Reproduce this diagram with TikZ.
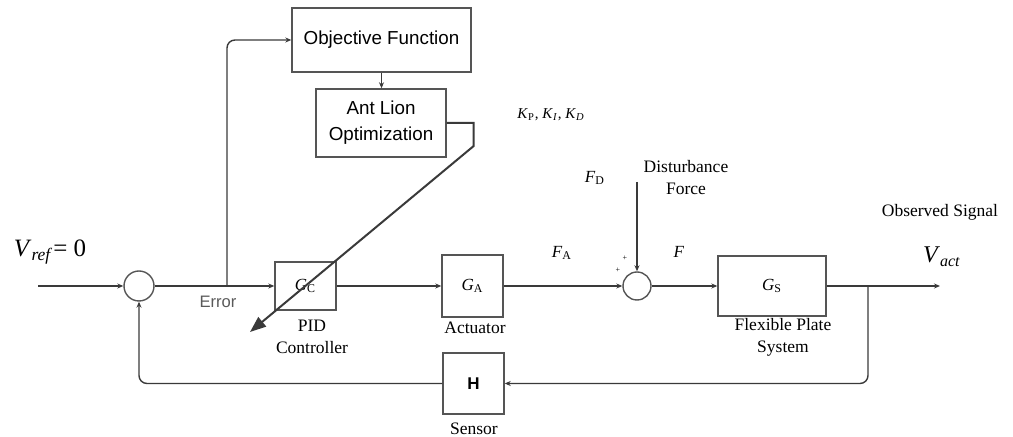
\documentclass[tikz,border=0pt]{standalone}
\usepackage{fontspec}
\setmainfont{Liberation Serif}
\setsansfont{Liberation Sans}
\usetikzlibrary{arrows.meta,positioning,calc}
\definecolor{lineg}{HTML}{3A3A3A}
\definecolor{boxg}{HTML}{555555}
\definecolor{errg}{HTML}{5A5A5A}

\begin{document}
\begin{tikzpicture}[x=0.5pt,y=-0.5pt,
  blk/.style={draw=boxg,line width=0.7pt,inner sep=0pt},
  sumc/.style={draw=boxg,line width=0.7pt,circle,inner sep=0pt},
  sig/.style={draw=lineg,line width=0.7pt,-{Stealth[length=3pt,width=2.5pt]}},
  txt/.style={font=\fontsize{8.75}{11}\selectfont,align=center,inner sep=0pt},
  glbl/.style={font=\fontsize{8.5}{10}\selectfont}]
  \useasboundingbox (0,0) rectangle (1013,437);
  % optimiser blocks
  \node[blk,minimum width=89.5pt,minimum height=32pt,font=\sffamily\fontsize{9.4}{11}\selectfont] (obj) at (381.5,40){Objective Function};
  \node[blk,minimum width=65pt,minimum height=34pt,align=center,font=\sffamily\fontsize{9.4}{13}\selectfont] (alo) at (381,123){Ant Lion\\Optimization};
  % loop blocks
  \node[sumc,minimum size=15pt] (s1) at (139,286){};
  \node[blk,minimum width=30.5pt,minimum height=24pt,glbl] (gc) at (305.5,286){\textit{G}\textsubscript{C}};
  \node[blk,minimum width=30.5pt,minimum height=31pt,glbl] (ga) at (472.5,286){\textit{G}\textsubscript{A}};
  \node[sumc,minimum size=14pt] (s2) at (637,286){};
  \node[blk,minimum width=54pt,minimum height=30pt,glbl] (gs) at (772,286){\textit{G}\textsubscript{S}};
  \node[blk,minimum width=30.5pt,minimum height=30.5pt,font=\sffamily\bfseries\fontsize{8.5}{10}\selectfont] (hs) at (473.5,383.5){H};
  % free ends
  \coordinate (vin) at (38,286);
  \coordinate (etap) at (227,286);
  \coordinate (otap) at (868,286);
  \coordinate (vout) at (940,286);
  \coordinate (dtop) at (637,182);
  \coordinate (kend) at (250,332);
  % signals
  \draw[sig] (vin)--(s1.west);
  \draw[sig] (s1.east)--(gc.west);
  \draw[sig] (gc.east)--(ga.west);
  \draw[sig] (ga.east)--(s2.west);
  \draw[sig] (s2.east)--(gs.west);
  \draw[sig] (gs.east)--(vout);
  \draw[sig,rounded corners=4pt] (etap)|-(obj.west);
  \draw[sig] (obj.south)--(obj.south|-alo.north);
  \draw[sig,rounded corners=4pt] (otap)|-(hs.east);
  \draw[sig,rounded corners=4pt] (hs.west)-|(s1.south);
  \draw[sig] (dtop)--(s2.north);
  \draw[lineg,line width=1pt,-{Triangle[length=8pt,width=6pt]}] (alo.east)--++(27,0)--++(0,23)--(kend);
  % labels
  \node[font=\fontsize{4}{4}\selectfont,inner sep=0pt] (p1) at (625,258){+};
  \node[font=\fontsize{4}{4}\selectfont,inner sep=0pt] (p2) at (618,270){+};
  \node[font=\fontsize{12.5}{14}\selectfont,inner sep=0pt] (vref) at (50,252){\textit{V}\textsubscript{\textit{ref}}= 0};
  \node[font=\sffamily\fontsize{8.3}{10}\selectfont,text=errg,inner sep=0pt] (err) at (218,302){Error};
  \node[txt] (pid) at (312,337){PID\\Controller};
  \node[txt] (act) at (475,328){Actuator};
  \node[txt] (sen) at (474,429){Sensor};
  \node[txt] (fps) at (783,337){Flexible Plate\\System};
  \node[txt] (dist) at (686,178){Disturbance\\Force};
  \node[glbl] (fd) at (595,178){\textit{F}\textsubscript{D}};
  \node[glbl] (fa) at (562,253){\textit{F}\textsubscript{A}};
  \node[glbl] (ff) at (679,252){\textit{F}};
  \node[txt] (obs) at (940,212){Observed Signal};
  \node[font=\fontsize{12}{14}\selectfont,inner sep=0pt] (vact) at (942,257){\textit{V}\textsubscript{\textit{act}}};
  \node[font=\fontsize{7.5}{9}\selectfont,inner sep=0pt] (kk) at (551,115){\textit{K}\textsubscript{P}, \textit{K}\textsubscript{\textit{I}}, \textit{K}\textsubscript{\textit{D}}};
\end{tikzpicture}
\end{document}
